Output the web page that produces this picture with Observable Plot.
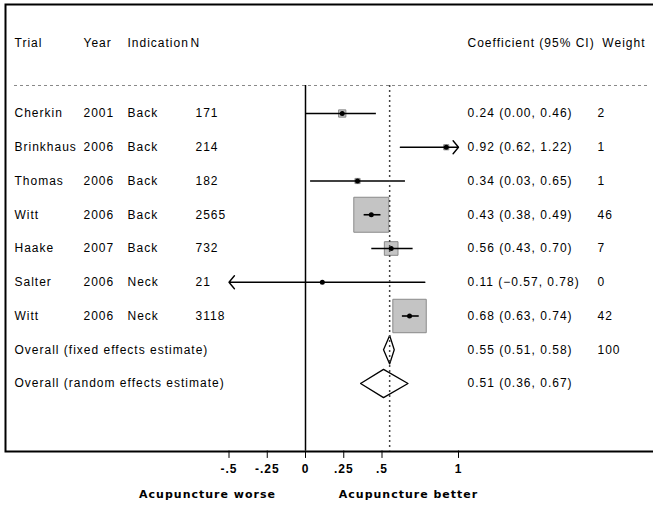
<!DOCTYPE html>
<html><head><meta charset="utf-8">
<script src="https://cdn.jsdelivr.net/npm/d3@7"></script>
<script src="https://cdn.jsdelivr.net/npm/@observablehq/plot@0.6"></script>
<style>body{margin:0;background:#fff}</style>
</head><body><div id="chart"></div>
<script>
// ---- data ----
const headers = ["Trial", "Year", "Indication", "N", "Coefficient (95% CI)", "Weight"];
const trials = ["Cherkin", "Brinkhaus", "Thomas", "Witt", "Haake", "Salter", "Witt"];
const years = [2001, 2006, 2006, 2006, 2007, 2006, 2006];
const indications = ["Back", "Back", "Back", "Back", "Back", "Neck", "Neck"];
const ns = [171, 214, 182, 2565, 732, 21, 3118];
const coefs = [0.24, 0.92, 0.34, 0.43, 0.56, 0.11, 0.68];
const los = [0.00, 0.62, 0.03, 0.38, 0.43, -0.57, 0.63];
const his = [0.46, 1.22, 0.65, 0.49, 0.70, 0.78, 0.74];
const weights = [2, 1, 1, 46, 7, 0, 42];
const overallLabels = ["Overall (fixed effects estimate)", "Overall (random effects estimate)"];
const overallCoefs = [0.55, 0.51];
const overallLos = [0.51, 0.36];
const overallHis = [0.58, 0.67];
const overallWeights = ["100", ""];
const tickValues = [-0.5, -0.25, 0, 0.25, 0.5, 1];
const tickLabels = ["-.5", "-.25", "0", ".25", ".5", "1"];
const sideLabels = ["Acupuncture worse", "Acupuncture better"];

// ---- layout ----
const XMIN = -0.5, XMAX = 1.0;           // plotted extent; CIs beyond get arrows
const HEADER_ROW = -2.07, SEP_ROW = -0.83, AXIS_ROW = 10.0;
const DIAMOND_HALF = 0.42;
const MAX_BOX = 35;
const f = d3.format(".2f");
const maxW = d3.max(weights);

const studies = trials.map((t, i) => ({
  row: i, trial: t, year: years[i], indication: indications[i], n: ns[i],
  coef: coefs[i], lo: los[i], hi: his[i], weight: weights[i],
  side: MAX_BOX * Math.sqrt(weights[i] / maxW)
}));
const overall = overallLabels.map((l, i) => ({
  row: trials.length + i, label: l, coef: overallCoefs[i], lo: overallLos[i], hi: overallHis[i], weight: overallWeights[i]
}));
const diamondPts = overall.flatMap((d, i) => [
  {z: i, x: d.lo, y: d.row}, {z: i, x: d.coef, y: d.row - DIAMOND_HALF},
  {z: i, x: d.hi, y: d.row}, {z: i, x: d.coef, y: d.row + DIAMOND_HALF},
  {z: i, x: d.lo, y: d.row}
]);
const inRange = studies.filter(d => d.lo >= XMIN && d.hi <= XMAX);
const clipHi = studies.filter(d => d.hi > XMAX);
const clipLo = studies.filter(d => d.lo < XMIN);

const font = {fontFamily: "Liberation Sans, Arial, sans-serif", fontSize: 12, fill: "black"};
const col = (data, text, dx, y = d => d.row, anchor = "start") =>
  Plot.text(data, {...font, y, text, frameAnchor: "left", dx, textAnchor: anchor});

const chart = Plot.plot({
  width: 653, height: 509,
  marginTop: 4, marginLeft: 5, marginRight: -3, marginBottom: 58,
  x: {domain: [0, 1], range: [305, 458], axis: null},
  y: {domain: [0, 8], range: [113, 383], axis: null},
  r: {type: "identity"},
  style: {background: "white", letterSpacing: "1px"},
  marks: [
    Plot.frame({stroke: "black", strokeWidth: 2}),
    // separator
    Plot.ruleY([SEP_ROW], {stroke: "#888", strokeDasharray: "3,3", insetLeft: 9, insetRight: 6}),
    // headers
    col([headers[0]], d => d, 9, () => HEADER_ROW),
    col([headers[1]], d => d, 78, () => HEADER_ROW),
    col([headers[2]], d => d, 122, () => HEADER_ROW),
    col([headers[3]], d => d, 185, () => HEADER_ROW),
    col([headers[4]], d => d, 462, () => HEADER_ROW),
    col([headers[5]], d => d, 640, () => HEADER_ROW, "end"),
    // study columns
    col(studies, "trial", 9),
    col(studies, d => String(d.year), 78),
    col(studies, "indication", 122),
    col(studies, d => String(d.n), 190),
    col(studies, d => `${f(d.coef)} (${f(d.lo)}, ${f(d.hi)})`, 462),
    col(studies, d => String(d.weight), 592),
    col(overall, "label", 9),
    col(overall, d => `${f(d.coef)} (${f(d.lo)}, ${f(d.hi)})`, 462),
    col(overall, "weight", 592),
    // zero line
    Plot.ruleX([0], {y1: SEP_ROW, y2: AXIS_ROW, stroke: "black", strokeWidth: 1.5}),
    // weight boxes
    Plot.dot(studies.filter(d => d.weight > 0), {x: "coef", y: "row", symbol: "square",
      r: d => d.side / Math.sqrt(Math.PI), fill: "#c4c4c4", stroke: "#8a8a8a", strokeWidth: 1}),
    // CI lines
    Plot.link(inRange, {x1: "lo", x2: "hi", y1: "row", y2: "row", stroke: "black", strokeWidth: 1.6}),
    Plot.arrow(clipHi, {x1: "lo", x2: () => XMAX, y1: "row", y2: "row", stroke: "black", strokeWidth: 1.4, headLength: 9, headAngle: 100}),
    Plot.arrow(clipLo, {x1: "hi", x2: () => XMIN, y1: "row", y2: "row", stroke: "black", strokeWidth: 1.4, headLength: 9, headAngle: 100}),
    // point estimates
    Plot.dot(studies, {x: "coef", y: "row", r: 2.5, fill: "black", stroke: "none"}),
    // overall diamonds
    Plot.line(diamondPts, {x: "x", y: "y", z: "z", stroke: "black", strokeWidth: 1.3, curve: "linear"}),
    // overall (fixed) estimate line
    Plot.ruleX([overallCoefs[0]], {y1: SEP_ROW, y2: AXIS_ROW, stroke: "#444", strokeWidth: 1.5, strokeDasharray: "2,3"}),
    // axis ticks & labels
    Plot.ruleX(tickValues, {y1: AXIS_ROW, y2: AXIS_ROW + 0.22, stroke: "black", strokeWidth: 1}),
    Plot.text(tickValues, {x: d => d, y: () => AXIS_ROW + 0.55, text: (d, i) => tickLabels[i],
      ...font, fontWeight: "bold"}),
    // side labels
    Plot.text([sideLabels[0]], {text: d => d, frameAnchor: "bottom-left", textAnchor: "middle", dx: 202, dy: 46,
      fontFamily: "DejaVu Sans, sans-serif", fontSize: 11, fontWeight: "bold", fill: "black"}),
    Plot.text([sideLabels[1]], {text: d => d, frameAnchor: "bottom-left", textAnchor: "middle", dx: 403, dy: 46,
      fontFamily: "DejaVu Sans, sans-serif", fontSize: 11, fontWeight: "bold", fill: "black"})
  ]
});
document.getElementById("chart").appendChild(chart);
</script>
</body></html>
